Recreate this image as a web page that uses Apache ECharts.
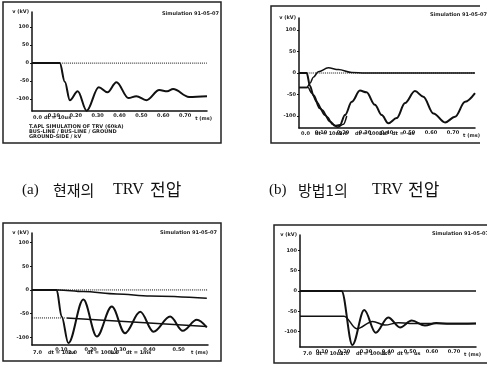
<!DOCTYPE html>
<html>
<head>
<meta charset="utf-8">
<script src="https://cdn.jsdelivr.net/npm/echarts@6/dist/echarts.min.js"></script>
<style>
  html, body { margin: 0; padding: 0; background: #fff; }
  #chart { width: 487px; height: 365px; }
</style>
</head>
<body>
<div id="chart"></div>
<script>
// (a) 현재의 TRV전압
const aTime = [0, 0.127, 0.15, 0.173, 0.209, 0.25, 0.305, 0.345, 0.386, 0.441, 0.477, 0.523, 0.582, 0.618, 0.645, 0.718, 0.8];
const aTrv = [0, 0, -52, -103, -78, -132, -67, -81, -53, -97, -92, -103, -75, -78, -72, -94, -92];

// (b) 방법1의 TRV전압
const bTime = [0, 0.035, 0.05, 0.065, 0.095, 0.118, 0.141, 0.164, 0.186, 0.209, 0.24, 0.277, 0.307, 0.345, 0.376, 0.406, 0.444, 0.482, 0.527, 0.565, 0.611, 0.664, 0.709, 0.755, 0.8];
const bTrv = [0, 0, -30, -51, -82, -98, -113, -123, -121, -98, -67, -41, -45, -74, -98, -117, -105, -70, -42, -55, -94, -115, -102, -67, -47];
const bSideTime = [0, 0.041, 0.058, 0.08, 0.106, 0.13, 0.152, 0.176, 0.202, 0.217];
const bSideV = [-34, -34, -47, -67, -86, -103, -119, -126, -119, -100];
const bSourceTime = [0, 0.035, 0.05, 0.065, 0.088, 0.133, 0.179, 0.24, 0.3, 0.8];
const bSourceV = [-34, -34, -24, -10, 3, 12, 8, 1, 0, 0];

// (c)
const cTime = [0, 0.084, 0.101, 0.124, 0.175, 0.221, 0.272, 0.317, 0.369, 0.414, 0.471, 0.514, 0.562, 0.596];
const cTrv = [0, 0, -56, -112, -20, -98, -35, -91, -46, -88, -56, -86, -63, -79];
const cSourceTime = [0, 0.09, 0.175, 0.289, 0.403, 0.596];
const cSourceV = [0, 0, -3.5, -8.4, -12.7, -17.6];
const cLoadTime = [0.118, 0.596];
const cLoadV = [-59, -77];
const cLoadRefTime = [0, 0.118];
const cLoadRefV = [-59, -59];

// (d)
const dTime = [0, 0.189, 0.238, 0.292, 0.344, 0.401, 0.455, 0.508, 0.568, 0.62, 0.68, 0.8];
const dTrv = [0, 0, -133, -47, -103, -65, -90, -73, -85, -79, -81, -80];
const dSideTime = [0, 0.2, 0.258, 0.33, 0.386, 0.447, 0.5, 0.8];
const dSideV = [-62, -62, -93, -75, -84, -78, -80, -80];

const zeroTime = [0, 0.8];
const zeroV = [0, 0];
const cZeroTime = [0, 0.6];

const yTicks = [-100, -50, 0, 50, 100];
const xTicks8 = [0.1, 0.2, 0.3, 0.4, 0.5, 0.6, 0.7];
const xTicks6 = [0.1, 0.2, 0.3, 0.4, 0.5];
const yRange = [[-133, 142], [-128, 128], [-116, 120], [-138, 138]];
const xMax = [0.8, 0.8, 0.6, 0.8];

const stamp = 'Simulation 91-05-07';
const aNotes = ['T.APL SIMULATION OF TRV (60kA)', 'BUS-LINE / BUS-LINE / GROUND', 'GROUND-SIDE / kV'];
const captionA = ['(a)', '현재의', 'TRV', '전압'];
const captionB = ['(b)', '방법1의', 'TRV', '전압'];

const tiny = { fontSize: 5, fontWeight: 'bold', color: '#222', fontFamily: 'DejaVu Sans' };

function zip(t, v) { return t.map((x, i) => [x, v[i]]); }

function xAxisFor(i, ticks) {
  return {
    type: 'value', gridIndex: i, min: 0, max: xMax[i], interval: 0.1,
    name: 't (ms)', nameLocation: 'end', nameGap: 0,
    nameTextStyle: { ...tiny, align: 'right', verticalAlign: 'top', padding: [5, 0, 0, 0] },
    axisLine: { onZero: false, lineStyle: { color: '#111', width: 1.5 } },
    axisTick: { show: false },
    axisLabel: { ...tiny, customValues: ticks, formatter: v => v.toFixed(2), margin: 2 },
    splitLine: { show: false }
  };
}

function yAxisFor(i) {
  return {
    type: 'value', gridIndex: i, min: yRange[i][0], max: yRange[i][1],
    name: 'v (kV)', nameLocation: 'end', nameGap: 0,
    nameTextStyle: { ...tiny, align: 'right', verticalAlign: 'middle', padding: [0, 3, 0, 0] },
    axisLine: { show: true, onZero: false, lineStyle: { color: '#111', width: 1.5 } },
    axisTick: { show: true, length: 2, customValues: yTicks, lineStyle: { color: '#111' } },
    axisLabel: { ...tiny, customValues: yTicks, margin: 3 },
    splitLine: { show: false }
  };
}

function line(i, t, v, width, type) {
  return {
    type: 'line', xAxisIndex: i, yAxisIndex: i,
    data: zip(t, v), symbol: 'none', smooth: 0.35, smoothMonotone: 'x',
    lineStyle: { color: '#111', width: width, type: type || 'solid' },
    silent: true, animation: false
  };
}

function txt(x, y, s) {
  return { type: 'text', x: x, y: y, silent: true,
    style: { text: s, fill: '#222', font: 'bold 5px DejaVu Sans', textVerticalAlign: 'middle' } };
}

function caption(x, parts, widths) {
  return {
    type: 'text', x: x, y: 190, silent: true,
    style: {
      text: '{p|' + parts[0] + '}{k|' + parts[1] + '}{t|' + parts[2] + '}{e|' + parts[3] + '}',
      textVerticalAlign: 'middle',
      rich: {
        p: { width: widths[0], fontSize: 15, fontFamily: 'Liberation Serif', fill: '#111' },
        k: { width: widths[1], fontSize: 15, fontFamily: 'Noto Sans CJK KR', fill: '#111' },
        t: { width: widths[2], fontSize: 16, fontFamily: 'Liberation Serif', fill: '#111' },
        e: { fontSize: 17, fontFamily: 'Noto Sans CJK KR', fill: '#111' }
      }
    }
  };
}

const chart = echarts.init(document.getElementById('chart'));
chart.setOption({
  backgroundColor: '#fff',
  animation: false,
  grid: [
    { left: 32, top: 12, width: 175, height: 99, outerBoundsMode: 'none' },
    { left: 299, top: 18, width: 176, height: 110, outerBoundsMode: 'none' },
    { left: 32, top: 233, width: 176, height: 112, outerBoundsMode: 'none' },
    { left: 300, top: 235, width: 176, height: 112, outerBoundsMode: 'none' }
  ],
  xAxis: [xAxisFor(0, xTicks8), xAxisFor(1, xTicks8), xAxisFor(2, xTicks6), xAxisFor(3, xTicks8)],
  yAxis: [yAxisFor(0), yAxisFor(1), yAxisFor(2), yAxisFor(3)],
  series: [
    line(0, zeroTime, zeroV, 1, 'dotted'),
    line(0, aTime, aTrv, 2),

    line(1, zeroTime, zeroV, 1, 'dotted'),
    line(1, bSourceTime, bSourceV, 1.5),
    line(1, bSideTime, bSideV, 1.5),
    line(1, bTime, bTrv, 2),

    line(2, cZeroTime, zeroV, 1, 'dotted'),
    line(2, cSourceTime, cSourceV, 1.5),
    line(2, cLoadRefTime, cLoadRefV, 1, 'dotted'),
    line(2, cLoadTime, cLoadV, 1.5),
    line(2, cTime, cTrv, 2),

    line(3, zeroTime, zeroV, 1.5),
    line(3, dSideTime, dSideV, 1.5),
    line(3, dTime, dTrv, 2)
  ],
  graphic: [
    { type: 'rect', shape: { x: 3, y: 2, width: 218, height: 141 }, style: { fill: 'none', stroke: '#222', lineWidth: 1.5 }, silent: true },
    { type: 'polyline', shape: { points: [[480, 6], [271, 6], [271, 143], [480, 143]] }, style: { fill: 'none', stroke: '#222', lineWidth: 1.5 }, silent: true },
    { type: 'rect', shape: { x: 3, y: 223, width: 218, height: 138 }, style: { fill: 'none', stroke: '#222', lineWidth: 1.5 }, silent: true },
    { type: 'polyline', shape: { points: [[487, 225], [274, 225], [274, 363], [487, 363]] }, style: { fill: 'none', stroke: '#222', lineWidth: 1.5 }, silent: true },

    txt(162, 14, stamp), txt(430, 15, stamp), txt(160, 233, stamp), txt(432, 234, stamp),

    txt(33, 118, '0.0'), txt(44, 118, 'dt = 10us'),
    txt(29, 127, aNotes[0]), txt(29, 132, aNotes[1]), txt(29, 137, aNotes[2]),

    txt(301, 134, '0.0'), txt(315, 134, 'dt = 10us'), txt(339, 134, '2.0'),
    txt(355, 134, 'dt = 100us'), txt(379, 134, '1.0'), txt(392, 134, 'dt ='), txt(408, 134, 'us'),

    txt(33, 353, '7.0'), txt(48, 353, 'dt = 10us'), txt(68, 353, '2.0'),
    txt(87, 353, 'dt = 100us'), txt(110, 353, '1.0'), txt(126, 353, 'dt = 1ms'),

    txt(303, 354, '7.0'), txt(316, 354, 'dt = 10us'), txt(340, 354, '2.0'),
    txt(356, 354, 'dt = 100us'), txt(382, 354, '1.0'), txt(397, 354, 'dt ='), txt(414, 354, 'us'),

    caption(22, captionA, [31, 60, 37]),
    caption(269, captionB, [29, 74, 36])
  ]
});
</script>
</body>
</html>
